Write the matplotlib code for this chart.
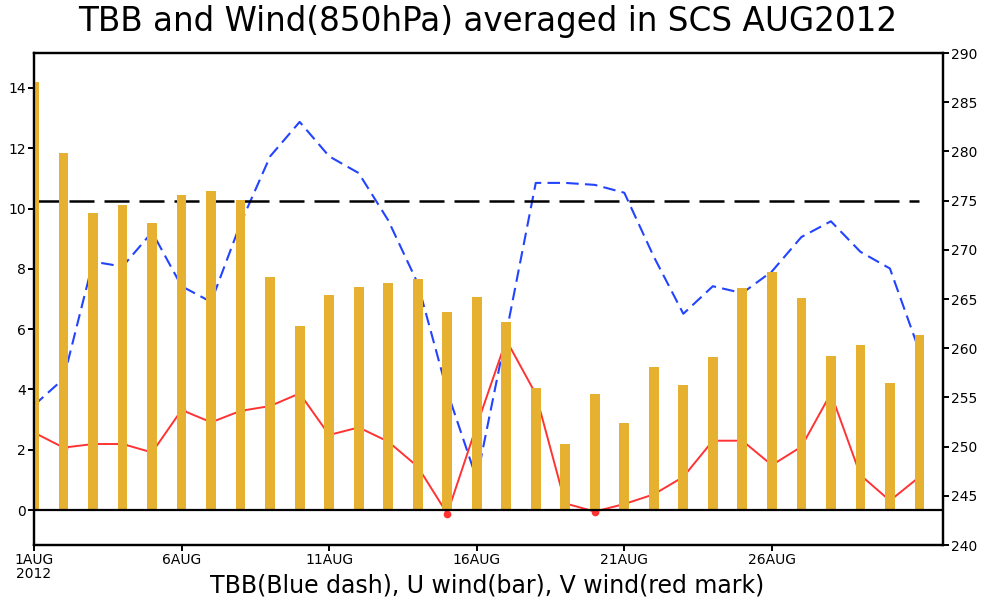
import matplotlib
matplotlib.use("Agg")
import matplotlib.pyplot as plt

# day of month, August 2012
days = list(range(1, 32))

# U wind (bars, left axis)
u_wind = [14.21, 11.86, 9.84, 10.11, 9.51, 10.44, 10.57, 10.30, 7.72, 6.10,
          7.12, 7.40, 7.54, 7.68, 6.57, 7.08, 6.24, 4.04, 2.20, 3.86,
          2.89, 4.73, 4.14, 5.07, 7.36, 7.91, 7.02, 5.11, 5.46, 4.22, 5.80]

# V wind (red line, left axis)
v_wind = [2.57, 2.07, 2.19, 2.19, 1.91, 3.32, 2.91, 3.29, 3.45, 3.87,
          2.49, 2.74, 2.27, 1.44, -0.12, 2.80, 5.64, 3.85, 0.22, -0.05,
          0.20, 0.52, 1.10, 2.30, 2.30, 1.49, 2.10, 3.87, 1.16, 0.31, 1.10]

# TBB (blue dash, right axis)
tbb = [254.2, 256.9, 268.8, 268.3, 271.8, 266.3, 264.7, 272.7, 279.5, 283.0,
       279.5, 277.8, 273.0, 266.6, 255.6, 246.7, 261.5, 276.8, 276.8, 276.6,
       275.8, 269.3, 263.5, 266.3, 265.6, 267.8, 271.3, 272.9, 269.8, 268.1, 259.7]

tbb_ref = 275
xtick_days = [1, 6, 11, 16, 21, 26]
xtick_labels = ["1AUG\n2012", "6AUG", "11AUG", "16AUG", "21AUG", "26AUG"]

fig = plt.figure(figsize=(9.81, 6.08), dpi=100)
ax = fig.add_axes([0.0347, 0.1036, 0.9266, 0.8092])
ax2 = ax.twinx()
ax.set_zorder(ax2.get_zorder() + 1)
ax.patch.set_visible(False)

# right axis: TBB and reference line (drawn behind the bars)
ax2.plot(days, tbb, color="#2244ff", lw=1.5, linestyle=(0, (6, 3)))
ax2.plot(days, [tbb_ref] * len(days), color="black", lw=1.8, linestyle=(0, (10, 4)))
ax2.set_ylim(240, 290)
ax2.set_yticks(range(240, 291, 5))

# left axis: V wind line then U wind bars
ax.plot(days, v_wind, color="#ff3333", lw=1.4, marker="o", markersize=4.5, zorder=1)
ax.bar(days, u_wind, width=0.33, color="#e6b030", linewidth=0, zorder=2)
ax.axhline(0, color="black", lw=1.6, zorder=3)
ax.set_ylim(-1.16, 15.16)
ax.set_yticks(range(0, 15, 2))
ax.set_xlim(1, 31.8)
ax.set_xticks(xtick_days)
ax.set_xticklabels(xtick_labels, linespacing=1.0)

for a in (ax, ax2):
    for s in a.spines.values():
        s.set_linewidth(1.6)
    a.tick_params(direction="out", length=4, width=1.4, labelsize=10, pad=2)

fig.text(0.497, 1 - 22 / 608, "TBB and Wind(850hPa) averaged in SCS AUG2012",
         fontsize=23.5, ha="center", va="center")
fig.text(487 / 981, 1 - 586 / 608, "TBB(Blue dash), U wind(bar), V wind(red mark)",
         fontsize=17, ha="center", va="center")

fig.savefig("out.png", dpi=100)
